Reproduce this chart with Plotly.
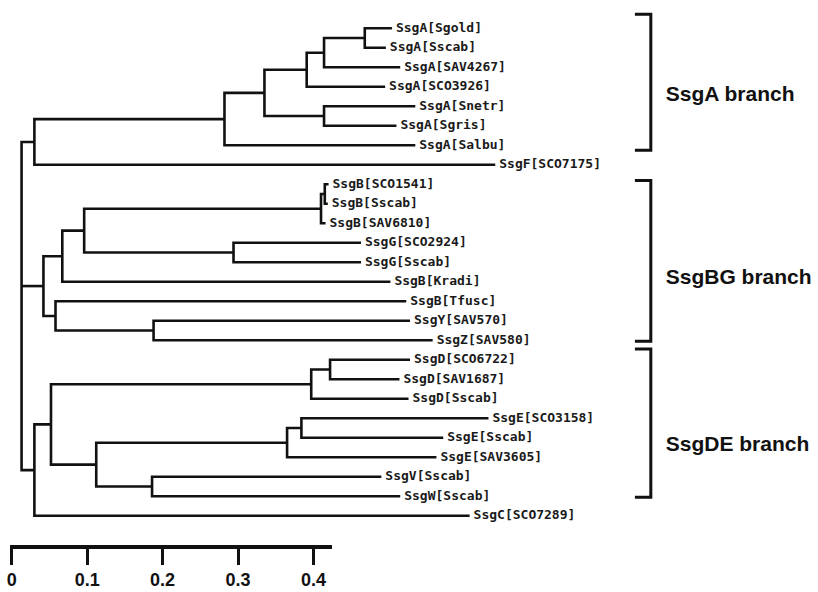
import plotly.graph_objects as go

# ---------------- data ----------------
leaf_names = [
    "SsgA[Sgold]", "SsgA[Sscab]", "SsgA[SAV4267]", "SsgA[SCO3926]",
    "SsgA[Snetr]", "SsgA[Sgris]", "SsgA[Salbu]", "SsgF[SCO7175]",
    "SsgB[SCO1541]", "SsgB[Sscab]", "SsgB[SAV6810]", "SsgG[SCO2924]",
    "SsgG[Sscab]", "SsgB[Kradi]", "SsgB[Tfusc]", "SsgY[SAV570]",
    "SsgZ[SAV580]", "SsgD[SCO6722]", "SsgD[SAV1687]", "SsgD[Sscab]",
    "SsgE[SCO3158]", "SsgE[Sscab]", "SsgE[SAV3605]", "SsgV[Sscab]",
    "SsgW[Sscab]", "SsgC[SCO7289]",
]
# cumulative distance of each leaf tip
leaf_dist = [
    0.504, 0.496, 0.515, 0.495, 0.535, 0.510, 0.535, 0.641,
    0.420, 0.419, 0.416, 0.463, 0.463, 0.502, 0.523, 0.528,
    0.558, 0.528, 0.514, 0.526, 0.632, 0.572, 0.563, 0.490,
    0.515, 0.607,
]
# internal nodes: name, cumulative distance, children (int = leaf index)
node_names = ["root", "nAF", "nA", "nA1", "nA2", "nA4", "nA5", "nA3",
              "nBG", "nBG1", "nBG3", "nB", "nB1", "nG", "nBG2", "nYZ",
              "nDEC", "nDE", "nD", "nD1", "nEVW", "nE", "nE1", "nVW"]
node_dist = [0.013, 0.030, 0.282, 0.335, 0.391, 0.414, 0.468, 0.414,
             0.042, 0.067, 0.096, 0.410, 0.415, 0.294, 0.058, 0.188,
             0.030, 0.052, 0.397, 0.422, 0.112, 0.365, 0.384, 0.186]
node_children = [
    ["nAF", "nBG", "nDEC"], ["nA", 7], ["nA1", 6], ["nA2", "nA3"],
    ["nA4", 3], ["nA5", 2], [0, 1], [4, 5],
    ["nBG1", "nBG2"], ["nBG3", 13], ["nB", "nG"], ["nB1", 10], [8, 9],
    [11, 12], [14, "nYZ"], [15, 16],
    ["nDE", 25], ["nD", "nEVW"], ["nD1", 19], [17, 18], ["nE", "nVW"],
    ["nE1", 22], [20, 21], [23, 24],
]
scale_ticks = [0, 0.1, 0.2, 0.3, 0.4]
scale_labels = ["0", "0.1", "0.2", "0.3", "0.4"]
scale_end = 0.424

group_names = ["SsgA branch", "SsgBG branch", "SsgDE branch"]
group_top = [-0.72, 7.8, 16.45]      # in leaf-row units
group_bottom = [6.25, 16.05, 24.05]
group_text_y = [3.45, 12.85, 21.4]

# ---------------- geometry helpers ----------------
W, H = 818, 592
X0_PX, PX_PER_UNIT = 7.8, 758.0
ROW0_PX, ROW_PX = 28.3, 19.5

node_index = {n: i for i, n in enumerate(node_names)}


def pos(ref):
    if isinstance(ref, int):
        return leaf_dist[ref], float(ref)
    i = node_index[ref]
    ys = [pos(c)[1] for c in node_children[i]]
    return node_dist[i], (min(ys) + max(ys)) / 2.0


xs, ys = [], []
for i, n in enumerate(node_names):
    nx = node_dist[i]
    kids = [pos(c) for c in node_children[i]]
    first, last = kids[0], kids[-1]
    xs += [first[0], nx, nx, last[0], None]
    ys += [first[1], first[1], last[1], last[1], None]
    for cx, cy in kids[1:-1]:
        xs += [nx, cx, None]
        ys += [cy, cy, None]

fig = go.Figure()
fig.add_trace(go.Scatter(
    x=xs, y=ys, mode="lines", hoverinfo="skip",
    line=dict(color="#111111", width=2.6), showlegend=False,
))

label_gap = 4.0 / PX_PER_UNIT
fig.add_trace(go.Scatter(
    x=[d + label_gap for d in leaf_dist], y=list(range(len(leaf_names))),
    mode="text", text=leaf_names, textposition="middle right",
    textfont=dict(family="DejaVu Sans Mono", size=13, color="#1a1a1a",
                  weight="bold"),
    hoverinfo="skip", showlegend=False,
))

# brackets
bx_left = (634 - X0_PX) / PX_PER_UNIT
bx_v = (650 - X0_PX) / PX_PER_UNIT
bxs, bys = [], []
for t, b in zip(group_top, group_bottom):
    bxs += [bx_left, bx_v, bx_v, bx_left, None]
    bys += [t, t, b, b, None]
fig.add_trace(go.Scatter(
    x=bxs, y=bys, mode="lines", hoverinfo="skip",
    line=dict(color="#111111", width=3), showlegend=False,
))
fig.add_trace(go.Scatter(
    x=[(665 - X0_PX) / PX_PER_UNIT] * 3, y=group_text_y, mode="text",
    text=group_names, textposition="middle right",
    textfont=dict(family="Liberation Sans, Arial", size=21, color="#111111",
                  weight="bold"),
    hoverinfo="skip", showlegend=False,
))

# dummy trace for the scale axis
fig.add_trace(go.Scatter(x=[0], y=[None], xaxis="x2", yaxis="y",
                         mode="markers", showlegend=False, hoverinfo="skip"))

line_px = 547
bar_left_px, bar_right_px = 6.5, X0_PX + scale_end * PX_PER_UNIT
fig.update_layout(
    width=W, height=H, margin=dict(l=0, r=0, t=0, b=0),
    paper_bgcolor="white", plot_bgcolor="rgba(0,0,0,0)",
    xaxis=dict(range=[-X0_PX / PX_PER_UNIT, (W - X0_PX) / PX_PER_UNIT],
               visible=False, fixedrange=True),
    yaxis=dict(range=[(H - ROW0_PX) / ROW_PX, -ROW0_PX / ROW_PX],
               visible=False, fixedrange=True),
    xaxis2=dict(
        domain=[bar_left_px / W, bar_right_px / W],
        range=[(bar_left_px - X0_PX) / PX_PER_UNIT, scale_end],
        anchor="free", position=1 - line_px / H, side="bottom",
        showline=True, linecolor="#111111", linewidth=3.5,
        ticks="outside", ticklen=16, tickwidth=2.5, tickcolor="#111111",
        tickvals=scale_ticks, ticktext=scale_labels,
        tickfont=dict(family="Liberation Sans, Arial", size=18,
                      color="#111111", weight="bold"),
        showgrid=False, zeroline=False, fixedrange=True,
    ),
)

fig.write_html("out.html",
               config={"displayModeBar": False},
               post_script="document.body.style.margin='0';"
                           "document.body.style.overflow='hidden';")
